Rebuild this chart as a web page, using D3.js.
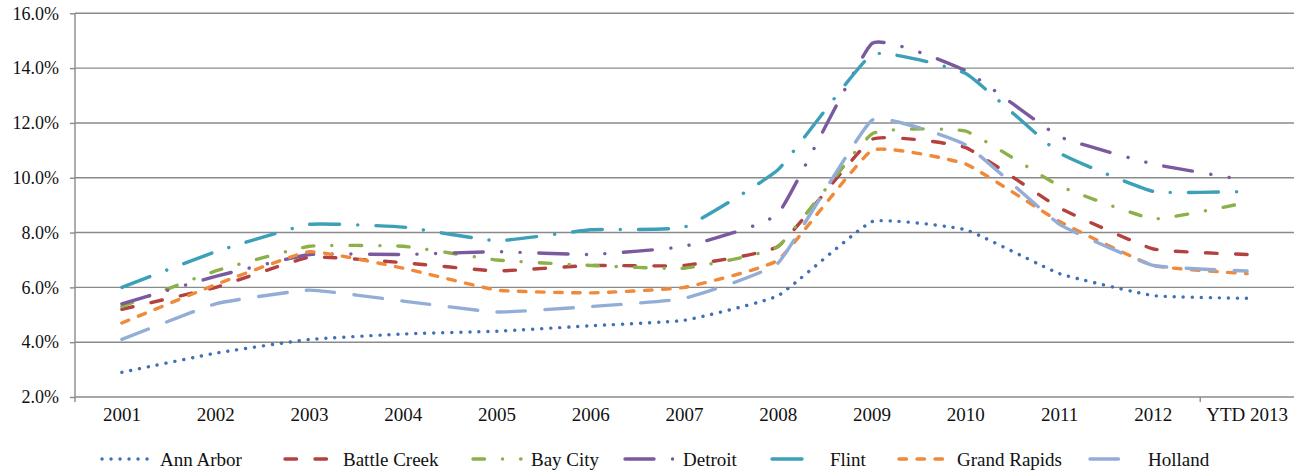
<!DOCTYPE html>
<html>
<head>
<meta charset="utf-8">
<script src="https://cdn.jsdelivr.net/npm/d3@7"></script>
<style>
  html, body { margin: 0; padding: 0; background: #fff; }
</style>
</head>
<body>
<svg id="chart" width="1299" height="472"></svg>
<script>
// Unemployment rate by city, 2001 – YTD 2013 (percent)
const years = ["2001","2002","2003","2004","2005","2006","2007","2008","2009","2010","2011","2012","YTD 2013"];
const yTicks = [2, 4, 6, 8, 10, 12, 14, 16];

const annArbor    = [2.9, 3.6, 4.1, 4.3, 4.4, 4.6, 4.8, 5.7, 8.4, 8.1, 6.5, 5.7, 5.6];
const battleCreek = [5.2, 6.0, 7.1, 6.9, 6.6, 6.8, 6.8, 7.5, 11.4, 11.1, 8.9, 7.4, 7.2];
const bayCity     = [5.3, 6.6, 7.5, 7.5, 7.0, 6.8, 6.7, 7.5, 11.6, 11.7, 9.7, 8.5, 9.1];
const detroit     = [5.4, 6.4, 7.2, 7.2, 7.3, 7.2, 7.5, 8.7, 14.9, 13.9, 11.5, 10.5, 9.9];
const flint       = [6.0, 7.3, 8.3, 8.2, 7.7, 8.1, 8.2, 10.3, 14.5, 13.8, 10.9, 9.5, 9.5];
const grandRapids = [4.7, 6.1, 7.3, 6.7, 5.9, 5.8, 6.0, 7.0, 11.0, 10.5, 8.4, 6.8, 6.5];
const holland     = [4.1, 5.4, 5.9, 5.5, 5.1, 5.3, 5.6, 6.9, 12.1, 11.2, 8.3, 6.8, 6.6];

const seriesNames = ["Ann Arbor", "Battle Creek", "Bay City", "Detroit", "Flint", "Grand Rapids", "Holland"];
const seriesValues = [annArbor, battleCreek, bayCity, detroit, flint, grandRapids, holland];

// line styles per series
const styles = [
  { color: "#4170b5", dash: "0.1 8.9" },
  { color: "#b3413f", dash: "11.5 18.5" },
  { color: "#8db04b", dash: "11.5 18 0.1 18" },
  { color: "#7a5a9e", dash: "29 18.5 0.1 18.5 0.1 18.5" },
  { color: "#3ca0b8", dash: "30 18 0.1 18" },
  { color: "#ee8a3a", dash: "7.5 10.5" },
  { color: "#93aed6", dash: "28.5 19.5" }
];

// legend label positions (x of each label's left edge)
const legendTextX = [160, 343, 531, 683, 830, 957, 1148];

const FONT = "'Liberation Serif', 'Times New Roman', serif";

const svg = d3.select("#chart");
const plot = { left: 75, right: 1294, top: 13.3, bottom: 397 };

const x = d3.scaleBand().domain(years).range([plot.left, plot.right]).padding(0);
const xc = d => x(d) + x.bandwidth() / 2;
const y = d3.scaleLinear().domain([2, 16]).range([plot.bottom, plot.top]);

const gridColor = "#8a8a8a";

// horizontal gridlines
svg.append("g")
  .selectAll("line")
  .data(yTicks)
  .join("line")
  .attr("x1", plot.left).attr("x2", plot.right)
  .attr("y1", d => y(d)).attr("y2", d => y(d))
  .attr("stroke", gridColor).attr("stroke-width", 1.4);

// left axis
const yAxis = d3.axisLeft(y)
  .tickValues(yTicks)
  .tickSize(5)
  .tickPadding(11)
  .tickFormat(d => d3.format(".1f")(d) + "%");
const gy = svg.append("g").attr("transform", `translate(${plot.left},0)`).call(yAxis);
gy.attr("font-family", FONT).attr("font-size", 18);
gy.select(".domain").remove();
gy.selectAll(".tick line").attr("stroke", gridColor).attr("stroke-width", 1.4);
gy.selectAll(".tick text").attr("fill", "#111").style("font-family", FONT);
svg.append("line")
  .attr("x1", plot.left).attr("x2", plot.left)
  .attr("y1", plot.top).attr("y2", plot.bottom + 5)
  .attr("stroke", gridColor).attr("stroke-width", 1.4);

// bottom axis: category labels, tick mark before the final category
const xAxis = d3.axisBottom(x).tickSize(0).tickPadding(11);
const gx = svg.append("g").attr("transform", `translate(0,${plot.bottom})`).call(xAxis);
gx.attr("font-family", FONT).attr("font-size", 19);
gx.select(".domain").remove();
gx.selectAll(".tick text").attr("fill", "#111").style("font-family", FONT);
svg.append("line")
  .attr("x1", x(years[12])).attr("x2", x(years[12]))
  .attr("y1", plot.bottom).attr("y2", plot.bottom + 5)
  .attr("stroke", gridColor).attr("stroke-width", 1.4);

// series lines, lightly smoothed
const line = d3.line()
  .x((d, i) => xc(years[i]))
  .y(d => y(d))
  .curve(d3.curveCardinal.tension(0.65));

svg.append("g")
  .selectAll("path")
  .data(seriesValues)
  .join("path")
  .attr("d", d => line(d))
  .attr("fill", "none")
  .attr("stroke", (d, i) => styles[i].color)
  .attr("stroke-width", 3.4)
  .attr("stroke-linecap", "round")
  .attr("stroke-linejoin", "round")
  .attr("stroke-dasharray", (d, i) => styles[i].dash);

// legend
const legend = svg.append("g").attr("transform", "translate(0,459)");
seriesNames.forEach((name, i) => {
  const tx = legendTextX[i];
  const item = legend.append("g");
  item.append("line")
    .attr("x1", tx - 58).attr("x2", tx - 10)
    .attr("y1", 0).attr("y2", 0)
    .attr("stroke", styles[i].color)
    .attr("stroke-width", 3.4)
    .attr("stroke-linecap", "round")
    .attr("stroke-dasharray", styles[i].dash);
  item.append("text")
    .attr("x", tx).attr("y", 0)
    .attr("dy", "0.35em")
    .attr("font-size", 19)
    .attr("fill", "#111")
    .style("font-family", FONT)
    .text(name);
});
</script>
</body>
</html>
